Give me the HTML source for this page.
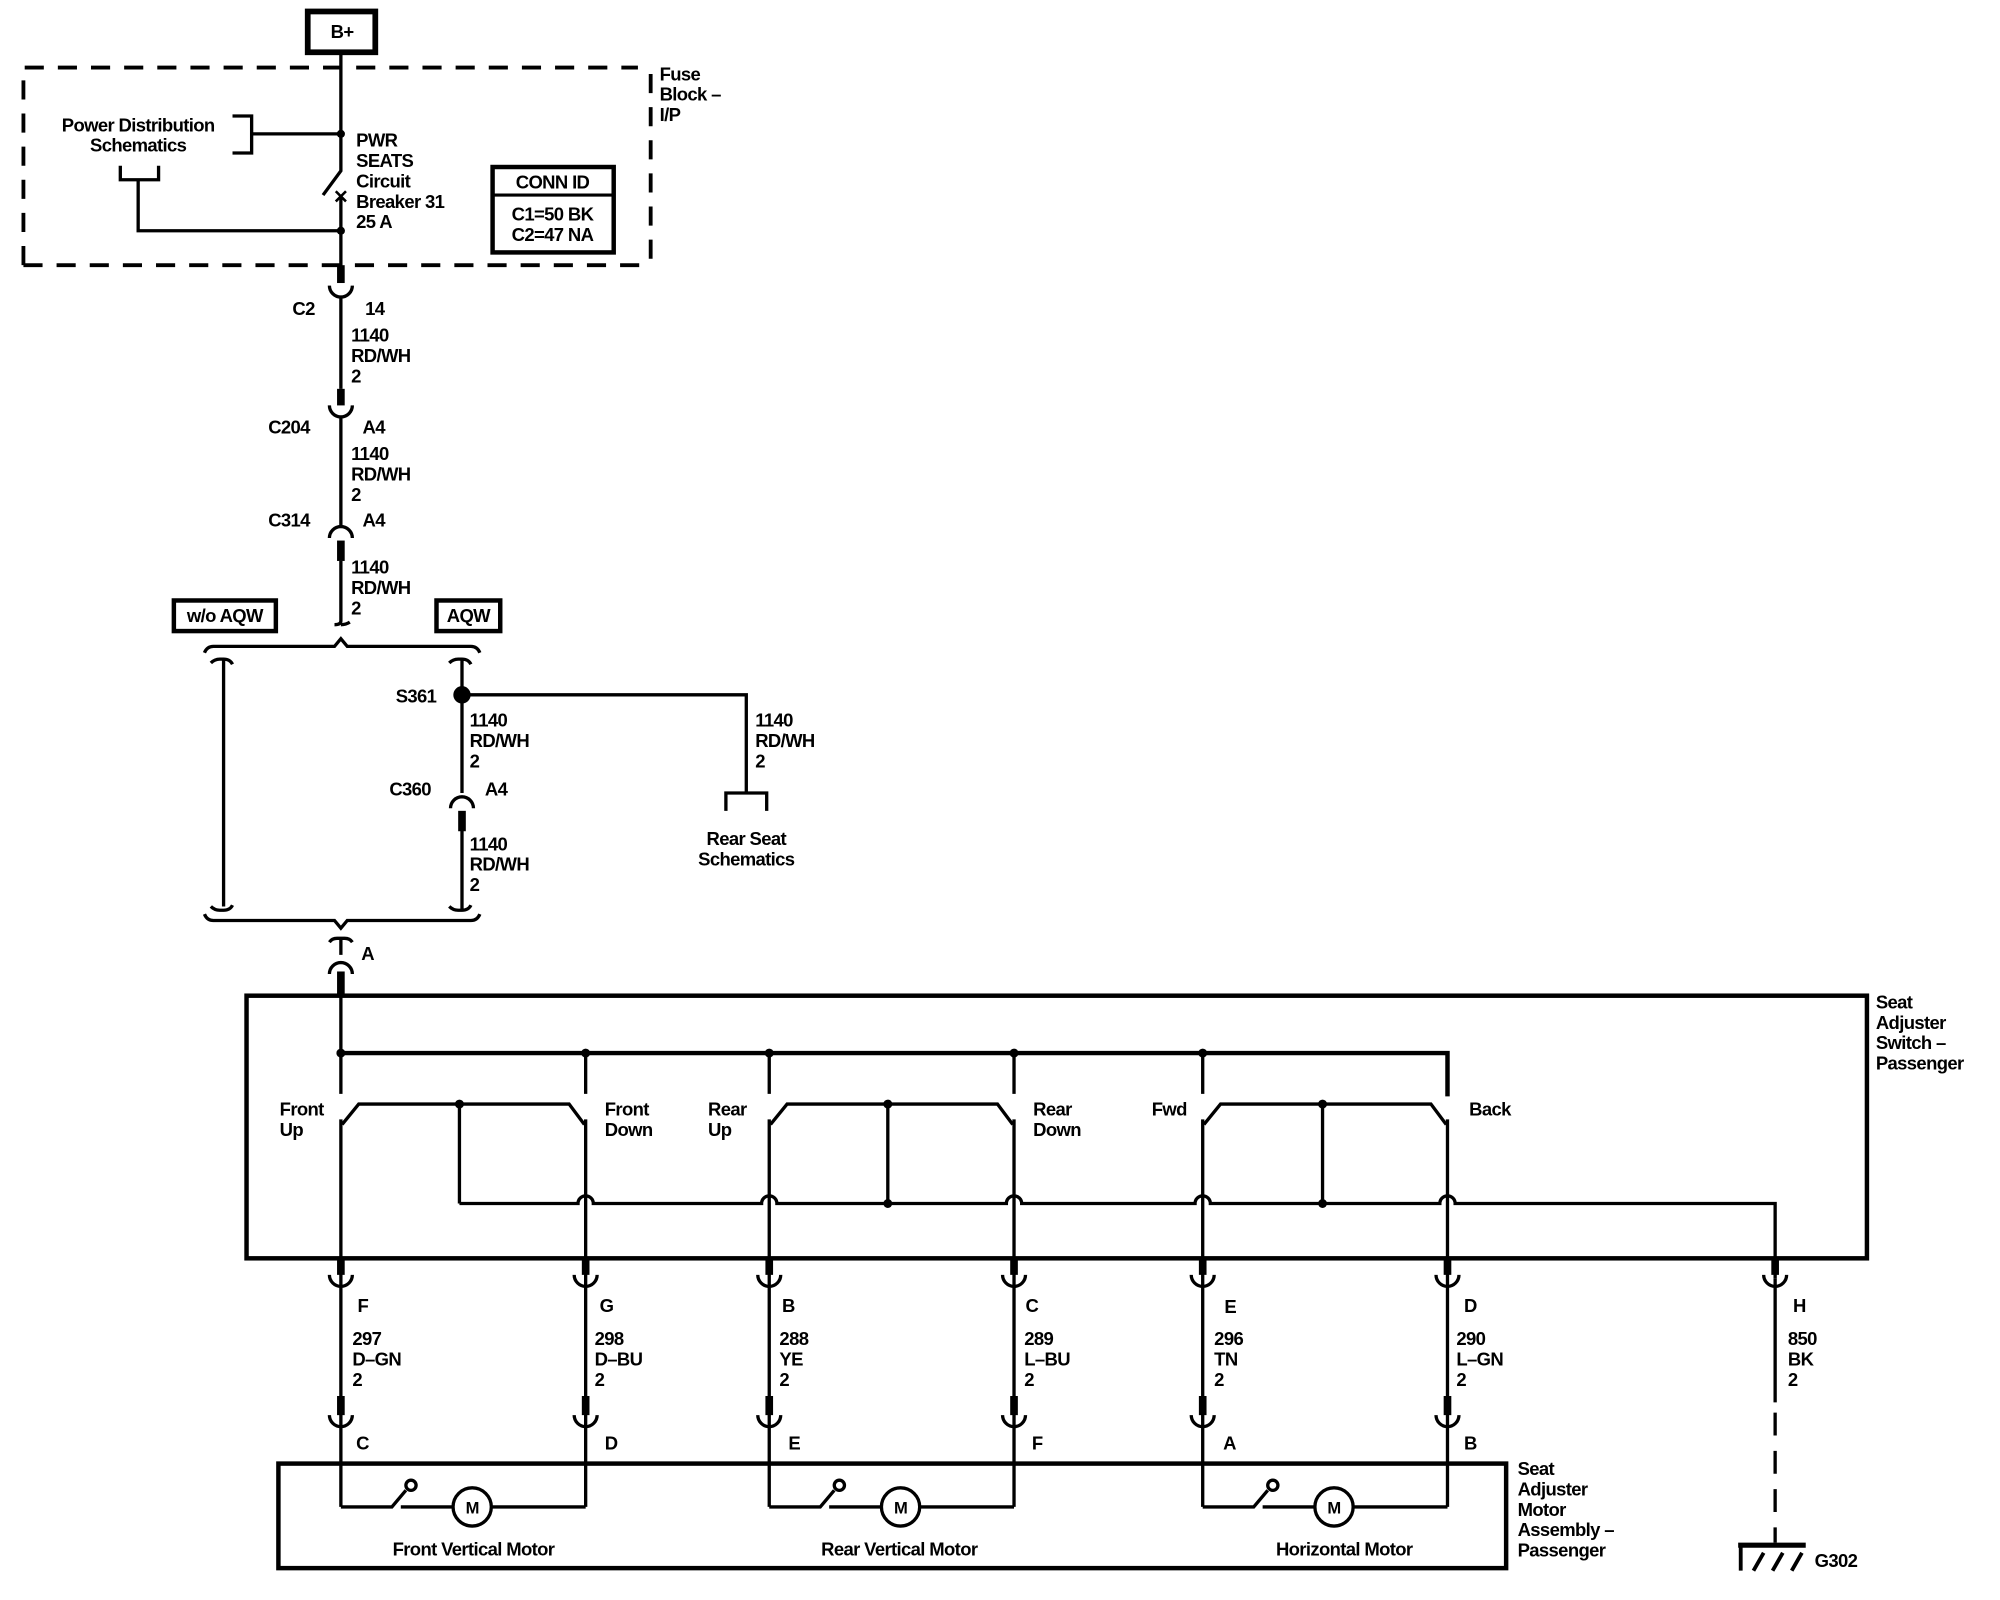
<!DOCTYPE html>
<html><head><meta charset="utf-8"><style>
html,body{margin:0;padding:0;background:#fff;}
svg{display:block;}
text{font-family:"Liberation Sans",sans-serif;font-size:14.5px;font-weight:bold;fill:#000;letter-spacing:-0.5px;}
.c{text-anchor:middle;}
</style></head><body>
<svg width="2000" height="1600" viewBox="0 0 1568 1255" xmlns="http://www.w3.org/2000/svg">
<g fill="none" stroke="#000" stroke-width="2.6">
<rect x="241" y="9" width="53" height="32" stroke-width="4.5"/>
<path d="M18 208 V53 H500 M510 58 V208 M18 208 H508" stroke-width="3" stroke-dasharray="15 11"/>
<path d="M267 42 V134 L253 153 M267 154 V222"/>
<path d="M263 150 L271 158 M271 150 L263 158" stroke-width="2"/>
<path d="M197 105 H267 M182 91 H197 V120 H182"/>
<path d="M94 130 V141 H124 V130 M108 141 V181 H267"/>
<rect x="386" y="131" width="95" height="67" stroke-width="3.5"/>
<path d="M386 153 H481" stroke-width="2.5"/>
<path d="M267 208 V222" stroke-width="6"/>
<path d="M258 224 A9 9 0 0 0 276 224"/>
<path d="M267 233 V305"/>
<path d="M267 305 V318" stroke-width="6"/>
<path d="M258 318 A9 9 0 0 0 276 318"/>
<path d="M267 327 V413"/>
<path d="M258 422 A9 9 0 0 1 276 422"/>
<path d="M267 424 V440" stroke-width="6"/>
<path d="M267 440 V487 Q267 490 262 490 M267 490 Q271 490 274 488"/>
<rect x="136" y="471" width="80" height="24" stroke-width="3.5"/>
<rect x="342" y="471" width="50" height="24" stroke-width="3.5"/>
<path d="M160 512 Q162 507 167 507 H262 L267 501 L272 507 H369 Q374 507 376 512"/>
<path d="M160 717 Q162 722 167 722 H262 L267 728 L272 722 H369 Q374 722 376 717"/>
<path d="M165 520 Q168 517 172 517 H175 Q180 517 182 521 M175 517 V711 M165 711 Q168 714 172 714 H175 Q180 714 182 710"/>
<path d="M352 520 Q355 517 359 517 H362 Q367 517 369 521 M362 517 V622 M352 711 Q355 714 359 714 H362 Q367 714 369 710 M362 650 V714"/>
<circle cx="362" cy="545" r="5.5" fill="#000"/>
<path d="M362 545 H585 V622 M569 636 V622 H601 V636"/>
<path d="M353 634 A9 9 0 0 1 371 634"/>
<path d="M362 636 V652" stroke-width="6"/>
<path d="M258 739 Q260 736 264 736 H270 Q274 736 276 739 M267 736 V749"/>
<path d="M258 764 A9 9 0 0 1 276 764"/>
<path d="M267 762 V826"/>
<path d="M267 762 V781" stroke-width="6"/>
<rect x="193" y="781" width="1271" height="206" stroke-width="3.5"/>
<path d="M267 826 H1135 V860" stroke-width="3.5"/>
<path d="M267 826 V858 M459 826 V858 M603 826 V858 M795 826 V858 M943 826 V858"/>
<path d="M268 882 L281 866 H446 L458 882"/>
<path d="M604 882 L617 866 H782 L794 882"/>
<path d="M944 882 L957 866 H1122 L1134 882"/>
<path d="M360 866 V944 M696 866 V944 M1037 866 V944"/>
<path d="M267 878 V1182 M459 878 V1182 M603 878 V1182 M795 878 V1182 M943 878 V1182 M1135 878 V1182"/>
<path d="M360 944 H453 A6 6 0 0 1 465 944 H597 A6 6 0 0 1 609 944 H789 A6 6 0 0 1 801 944 H937 A6 6 0 0 1 949 944 H1129 A6 6 0 0 1 1141 944 H1392 V1003"/>
<g stroke-width="6">
<path d="M267 987 V1000 M459 987 V1000 M603 987 V1000 M795 987 V1000 M943 987 V1000 M1135 987 V1000 M1392 987 V1000"/>
<path d="M267 1095 V1110 M459 1095 V1110 M603 1095 V1110 M795 1095 V1110 M943 1095 V1110 M1135 1095 V1110"/>
</g>
<path d="M258 1000 A9 9 0 0 0 276 1000 M450 1000 A9 9 0 0 0 468 1000 M594 1000 A9 9 0 0 0 612 1000 M786 1000 A9 9 0 0 0 804 1000 M934 1000 A9 9 0 0 0 952 1000 M1126 1000 A9 9 0 0 0 1144 1000 M1383 1000 A9 9 0 0 0 1401 1000"/>
<path d="M258 1110 A9 9 0 0 0 276 1110 M450 1110 A9 9 0 0 0 468 1110 M594 1110 A9 9 0 0 0 612 1110 M786 1110 A9 9 0 0 0 804 1110 M934 1110 A9 9 0 0 0 952 1110 M1126 1110 A9 9 0 0 0 1144 1110"/>
<path d="M1392 1003 V1100"/>
<path d="M1392 1108 V1210" stroke-dasharray="18 12"/>
<path d="M1363 1212 H1416" stroke-width="4"/>
<path d="M1365 1212 V1232 M1383 1218 L1375 1232 M1398 1218 L1390 1232 M1413 1218 L1405 1232" stroke-width="3"/>
<rect x="218" y="1148" width="963" height="82" stroke-width="3.5"/>
<path d="M267 1182 H307 L318 1169 M314 1182 H355 M385 1182 H459"/>
<path d="M603 1182 H643 L654 1169 M650 1182 H691 M721 1182 H795"/>
<path d="M943 1182 H983 L994 1169 M990 1182 H1031 M1061 1182 H1135"/>
<circle cx="322" cy="1165" r="4"/><circle cx="658" cy="1165" r="4"/><circle cx="998" cy="1165" r="4"/>
<circle cx="370" cy="1182" r="15"/><circle cx="706" cy="1182" r="15"/><circle cx="1046" cy="1182" r="15"/>
</g>
<g fill="#000">
<circle cx="267" cy="105" r="3.2"/><circle cx="267" cy="181" r="3.2"/>
<circle cx="267" cy="826" r="3.5"/><circle cx="459" cy="826" r="3.5"/><circle cx="603" cy="826" r="3.5"/><circle cx="795" cy="826" r="3.5"/><circle cx="943" cy="826" r="3.5"/>
<circle cx="360" cy="866" r="3.5"/><circle cx="696" cy="866" r="3.5"/><circle cx="696" cy="944" r="3.5"/><circle cx="1037" cy="866" r="3.5"/><circle cx="1037" cy="944" r="3.5"/>
</g>
<g>
<text x="259" y="30">B+</text>
<text x="517" y="63">Fuse</text><text x="517" y="79">Block –</text><text x="517" y="95">I/P</text>
<text class="c" x="108" y="103">Power Distribution</text><text class="c" x="108" y="119">Schematics</text>
<text x="279" y="115">PWR</text><text x="279" y="131">SEATS</text><text x="279" y="147">Circuit</text><text x="279" y="163">Breaker 31</text><text x="279" y="179">25 A</text>
<text class="c" x="433" y="148">CONN ID</text><text class="c" x="433" y="173">C1=50 BK</text><text class="c" x="433" y="189">C2=47 NA</text>
<text x="229" y="247">C2</text><text x="286" y="247">14</text>
<text x="275" y="268">1140</text><text x="275" y="284">RD/WH</text><text x="275" y="300">2</text>
<text x="210" y="340">C204</text><text x="284" y="340">A4</text>
<text x="275" y="361">1140</text><text x="275" y="377">RD/WH</text><text x="275" y="393">2</text>
<text x="210" y="413">C314</text><text x="284" y="413">A4</text>
<text x="275" y="450">1140</text><text x="275" y="466">RD/WH</text><text x="275" y="482">2</text>
<text class="c" x="176" y="488">w/o AQW</text><text class="c" x="367" y="488">AQW</text>
<text x="310" y="551">S361</text>
<text x="368" y="570">1140</text><text x="368" y="586">RD/WH</text><text x="368" y="602">2</text>
<text x="592" y="570">1140</text><text x="592" y="586">RD/WH</text><text x="592" y="602">2</text>
<text x="305" y="624">C360</text><text x="380" y="624">A4</text>
<text x="368" y="667">1140</text><text x="368" y="683">RD/WH</text><text x="368" y="699">2</text>
<text class="c" x="585" y="663">Rear Seat</text><text class="c" x="585" y="679">Schematics</text>
<text x="283" y="753">A</text>
<text x="1471" y="791">Seat</text><text x="1471" y="807">Adjuster</text><text x="1471" y="823">Switch –</text><text x="1471" y="839">Passenger</text>
<text x="219" y="875">Front</text><text x="219" y="891">Up</text>
<text x="474" y="875">Front</text><text x="474" y="891">Down</text>
<text x="555" y="875">Rear</text><text x="555" y="891">Up</text>
<text x="810" y="875">Rear</text><text x="810" y="891">Down</text>
<text x="903" y="875">Fwd</text><text x="1152" y="875">Back</text>
<text x="280" y="1029">F</text><text x="470" y="1029">G</text><text x="613" y="1029">B</text><text x="804" y="1029">C</text><text x="960" y="1030">E</text><text x="1148" y="1029">D</text><text x="1406" y="1029">H</text>
<text x="276" y="1055">297</text><text x="276" y="1071">D–GN</text><text x="276" y="1087">2</text>
<text x="466" y="1055">298</text><text x="466" y="1071">D–BU</text><text x="466" y="1087">2</text>
<text x="611" y="1055">288</text><text x="611" y="1071">YE</text><text x="611" y="1087">2</text>
<text x="803" y="1055">289</text><text x="803" y="1071">L–BU</text><text x="803" y="1087">2</text>
<text x="952" y="1055">296</text><text x="952" y="1071">TN</text><text x="952" y="1087">2</text>
<text x="1142" y="1055">290</text><text x="1142" y="1071">L–GN</text><text x="1142" y="1087">2</text>
<text x="1402" y="1055">850</text><text x="1402" y="1071">BK</text><text x="1402" y="1087">2</text>
<text x="279" y="1137">C</text><text x="474" y="1137">D</text><text x="618" y="1137">E</text><text x="809" y="1137">F</text><text x="959" y="1137">A</text><text x="1148" y="1137">B</text>
<text x="1190" y="1157">Seat</text><text x="1190" y="1173">Adjuster</text><text x="1190" y="1189">Motor</text><text x="1190" y="1205">Assembly –</text><text x="1190" y="1221">Passenger</text>
<text class="c" x="370" y="1187" style="font-size:13px">M</text><text class="c" x="706" y="1187" style="font-size:13px">M</text><text class="c" x="1046" y="1187" style="font-size:13px">M</text>
<text class="c" x="371" y="1220">Front Vertical Motor</text>
<text class="c" x="705" y="1220">Rear Vertical Motor</text>
<text class="c" x="1054" y="1220">Horizontal Motor</text>
<text x="1423" y="1229">G302</text>
</g>
</svg>
</body></html>
